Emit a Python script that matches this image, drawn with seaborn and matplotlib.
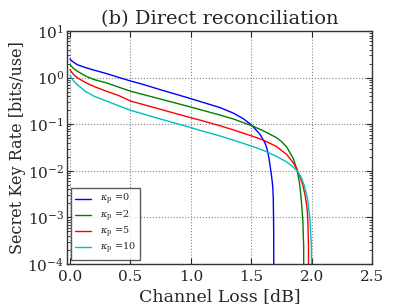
import matplotlib
matplotlib.use("Agg")
import matplotlib.pyplot as plt
import seaborn as sns
import pandas as pd

# ---- data ----
labels = [r"$\kappa_{\rm p}$ =0", r"$\kappa_{\rm p}$ =2", r"$\kappa_{\rm p}$ =5", r"$\kappa_{\rm p}$ =10"]
colors = ["#0000ff", "#008000", "#ff0000", "#00bfbf"]

x_k0 = [0.0, 0.01, 0.03, 0.06, 0.13, 0.2, 0.3, 0.4, 0.5, 0.6, 0.75, 1.0, 1.075, 1.24, 1.351,
        1.434, 1.504, 1.573, 1.614, 1.63, 1.645, 1.661, 1.672, 1.678, 1.683, 1.686, 1.688]
y_k0 = [2.55, 2.34, 2.14, 1.9, 1.64, 1.45, 1.23, 1.02, 0.85, 0.724, 0.55, 0.355, 0.309, 0.229, 0.174,
        0.132, 0.0955, 0.0607, 0.0398, 0.0302, 0.02, 0.0107, 0.0065, 0.00468, 0.00245, 0.0005, 1e-5]

x_k2 = [0.0, 0.01, 0.03, 0.06, 0.13, 0.2, 0.3, 0.4, 0.5, 0.75, 1.0, 1.075, 1.24, 1.351,
        1.504, 1.6, 1.711, 1.75, 1.794, 1.849, 1.877, 1.899, 1.91, 1.92, 1.928, 1.934, 1.936]
y_k2 = [1.93, 1.78, 1.58, 1.38, 1.08, 0.91, 0.776, 0.63, 0.513, 0.347, 0.234, 0.207, 0.158, 0.13,
        0.0933, 0.0724, 0.0513, 0.0427, 0.0324, 0.0182, 0.011, 0.00575, 0.00316, 0.00158, 0.00079,
        0.00025, 1e-5]

x_k5 = [0.0, 0.01, 0.03, 0.06, 0.13, 0.2, 0.3, 0.4, 0.5, 0.75, 1.0, 1.075, 1.24, 1.351,
        1.504, 1.6, 1.711, 1.794, 1.849, 1.877, 1.905, 1.927, 1.946, 1.96, 1.968, 1.974, 1.976]
y_k5 = [1.5, 1.35, 1.17, 1.0, 0.78, 0.646, 0.513, 0.417, 0.316, 0.209, 0.138, 0.123, 0.0933, 0.0759,
        0.0562, 0.0457, 0.0331, 0.0224, 0.0148, 0.011, 0.00741, 0.00501, 0.00302, 0.00178, 0.001,
        0.00025, 1e-5]

x_k10 = [0.0, 0.01, 0.03, 0.06, 0.13, 0.2, 0.3, 0.4, 0.5, 0.75, 1.0, 1.075, 1.24, 1.351,
         1.504, 1.6, 1.711, 1.794, 1.849, 1.877, 1.91, 1.94, 1.965, 1.985, 1.998, 2.003]
y_k10 = [1.148, 1.0, 0.851, 0.708, 0.501, 0.398, 0.316, 0.251, 0.2, 0.129, 0.0851, 0.0741, 0.0562, 0.0457,
         0.0339, 0.0275, 0.0204, 0.0155, 0.012, 0.0102, 0.00759, 0.00479, 0.00263, 0.001, 0.000251, 1e-5]

x_ticks = [0.0, 0.5, 1.0, 1.5, 2.0, 2.5]
x_ticklabels = ["0.0", "0.5", "1.0", "1.5", "2.0", "2.5"]

# ---- build table ----
frames = []
for lab, xs, ys in zip(labels, [x_k0, x_k2, x_k5, x_k10], [y_k0, y_k2, y_k5, y_k10]):
    frames.append(pd.DataFrame({"loss": xs, "rate": ys, "series": lab}))
df = pd.concat(frames, ignore_index=True)

sns.set_style("ticks")
plt.rcParams["font.family"] = ["DejaVu Serif"]
plt.rcParams["mathtext.fontset"] = "dejavuserif"

fig = plt.figure(figsize=(4.07, 3.08), dpi=100)
ax = fig.add_axes([0.1646, 0.1429, 0.7494, 0.7561])

sns.lineplot(data=df, x="loss", y="rate", hue="series", hue_order=labels,
             palette=colors, sort=False, estimator=None,
             linewidth=1.0, ax=ax)

ax.set_yscale("log")
ax.set_xlim(-0.025, 2.5)
ax.set_ylim(1e-4, 1e1)
ax.set_xticks(x_ticks)
ax.set_xticklabels(x_ticklabels)
ax.grid(True, which="major", linestyle=":", color="#888888", linewidth=0.8)
ax.tick_params(which="both", direction="in", top=True, right=True, labelsize=11)
ax.tick_params(which="major", length=4, pad=4)
ax.tick_params(axis="y", which="major", pad=2)
ax.tick_params(which="minor", length=2)
for s in ax.spines.values():
    s.set_color("#333333")
    s.set_linewidth(1.0)

ax.set_xlabel("Channel Loss [dB]", fontsize=12.5, labelpad=3)
ax.set_ylabel("Secret Key Rate [bits/use]", fontsize=11.5, labelpad=1)
ax.set_title("(b) Direct reconciliation", fontsize=14, pad=5)

leg = ax.legend(loc="lower left", fontsize=7, frameon=True, fancybox=False,
                edgecolor="#333333", handlelength=1.7, handletextpad=0.9,
                borderpad=0.4, labelspacing=0.12, borderaxespad=0.4)
leg.get_frame().set_linewidth(1.0)

fig.savefig("out.png", dpi=100)
